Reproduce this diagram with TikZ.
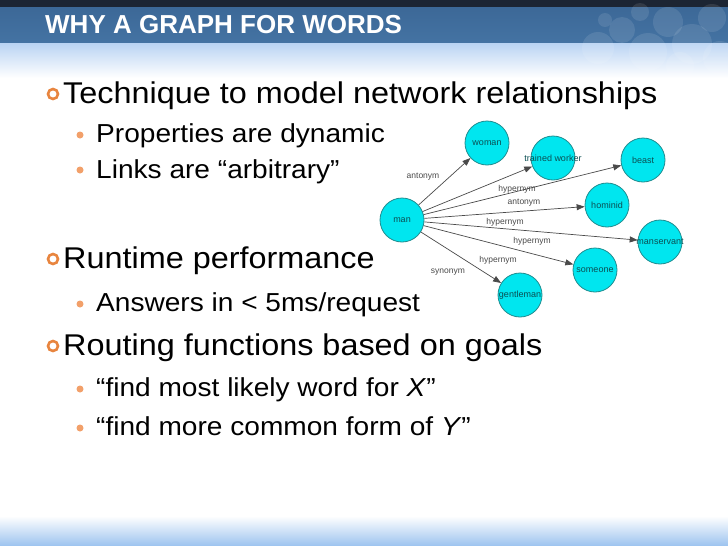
\documentclass[tikz,border=0pt]{standalone}
\usepackage{fontspec}
\setmainfont{Liberation Sans}
\newfontfamily\bodyfont[FakeStretch=1.08]{Liberation Sans}
\usetikzlibrary{arrows.meta}

\definecolor{topdark}{HTML}{1C2533}
\definecolor{titleblue}{HTML}{3C6897}
\definecolor{titleblue2}{HTML}{4473A3}
\definecolor{bandlight}{HTML}{B9D3F3}
\definecolor{footblue}{HTML}{9CC3EF}
\definecolor{ringorange}{HTML}{E8853F}
\definecolor{dotorange}{HTML}{F2A06A}
\definecolor{nodefill}{HTML}{00E6EF}
\definecolor{nodeedge}{HTML}{1F8C8F}
\definecolor{nodetext}{HTML}{0B4F53}
\definecolor{linkgray}{HTML}{4A4A4A}
\definecolor{labelgray}{HTML}{4A4A4A}

\begin{document}
\begin{tikzpicture}[x=1pt, y=-1pt,
  wordnode/.style={circle, draw=nodeedge, fill=nodefill, line width=0.8pt,
    minimum size=44pt, inner sep=0pt,
    label={[font=\fontsize{9}{9}\selectfont, text=nodetext]center:#1}},
  relation/.style={font=\fontsize{8.5}{9}\selectfont, text=labelgray, inner sep=0pt},
  link/.style={draw=linkgray, line width=0.7pt, -{Triangle[length=8pt,width=6pt]}},
  mainline/.style={anchor=base west, inner sep=0pt, text=black,
    font=\bodyfont\fontsize{30}{30}\selectfont},
  subline/.style={anchor=base west, inner sep=0pt, text=black,
    font=\bodyfont\fontsize{26}{26}\selectfont}]

\useasboundingbox (0,0) rectangle (728,546);

% Background of the slide
\fill[white] (0,0) rectangle (728,546);
\fill[topdark] (0,0) rectangle (728,7);
\shade[top color=titleblue, bottom color=titleblue2] (0,7) rectangle (728,43);
\shade[top color=bandlight, bottom color=white] (0,43) rectangle (728,78);
\shade[top color=white, bottom color=footblue] (0,516) rectangle (728,546);

% Bubbles on the title bar
\foreach \bx/\by/\br in {598/48/16, 622/30/13, 648/52/19, 668/22/15, 692/44/20,
                         712/18/14, 720/58/17, 640/12/9, 605/20/7, 680/66/14} {
  \fill[white, opacity=0.1] (\bx,\by) circle (\br pt);
}

% Title
\node[anchor=base west, inner sep=0pt, text=white,
      font=\bfseries\fontsize{26}{26}\selectfont] (title) at (45,33) {WHY A GRAPH FOR WORDS};

% Bullets
\draw[ringorange, line width=2.6pt] (53,94) circle (5pt);
\draw[ringorange, line width=2.6pt] (53,259) circle (5pt);
\draw[ringorange, line width=2.6pt] (53,346) circle (5pt);
\fill[dotorange] (80,135) circle (3.5pt);
\fill[dotorange] (80,170) circle (3.5pt);
\fill[dotorange] (80,304) circle (3.5pt);
\fill[dotorange] (80,389) circle (3.5pt);
\fill[dotorange] (80,428) circle (3.5pt);

% Text of the slide
\node[mainline] (tech) at (63,103) {Technique to model network relationships};
\node[subline] (prop) at (96,142) {Properties are dynamic};
\node[subline] (links) at (96,178) {Links are “arbitrary”};
\node[mainline] (runtime) at (63,268) {Runtime performance};
\node[subline] (answers) at (96,311) {Answers in < 5ms/request};
\node[mainline] (routing) at (63,355) {Routing functions based on goals};
\node[subline] (findx) at (96,396) {“find most likely word for \textit{X}”};
\node[subline] (findy) at (96,435) {“find more common form of \textit{Y}”};

% Word nodes
\node[wordnode=man] (man) at (402,220) {};
\node[wordnode=woman] (woman) at (487,143) {};
\node[wordnode=trained worker] (worker) at (553,158) {};
\node[wordnode=beast] (beast) at (643,160) {};
\node[wordnode=hominid] (hominid) at (607,205) {};
\node[wordnode=manservant] (manservant) at (660,242) {};
\node[wordnode=someone] (someone) at (595,270) {};
\node[wordnode=gentleman] (gentleman) at (520,295) {};

% Links from man
\draw[link] (man) -- (woman);
\draw[link] (man) -- (worker);
\draw[link] (man) -- (beast);
\draw[link] (man) -- (hominid);
\draw[link] (man) -- (manservant);
\draw[link] (man) -- (someone);
\draw[link] (man) -- (gentleman);

% Labels of the links
\node[relation] (rel1) at (423,177) {antonym};
\node[relation] (rel2) at (517,189) {hypernym};
\node[relation] (rel3) at (524,203) {antonym};
\node[relation] (rel4) at (505,222) {hypernym};
\node[relation] (rel5) at (532,241) {hypernym};
\node[relation] (rel6) at (498,260) {hypernym};
\node[relation] (rel7) at (448,272) {synonym};

\end{tikzpicture}
\end{document}
